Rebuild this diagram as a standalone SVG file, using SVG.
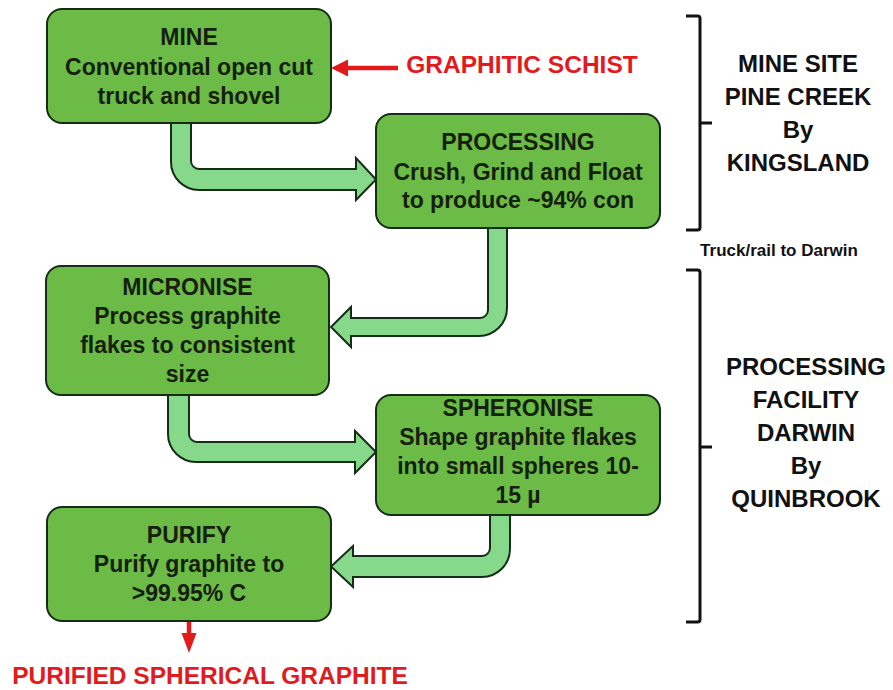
<svg xmlns="http://www.w3.org/2000/svg" width="893" height="690" viewBox="0 0 893 690">
<style>
.box{fill:#6cbb46;stroke:#142e16;stroke-width:2}
.flow{fill:#86d98b;stroke:#142e16;stroke-width:2;stroke-linejoin:miter}
.bt{font-family:"Liberation Sans",Arial,sans-serif;font-weight:bold;font-size:23px;fill:#15200f;text-anchor:middle}
.st{font-family:"Liberation Sans",Arial,sans-serif;font-weight:bold;font-size:24px;fill:#111;text-anchor:middle}
.red{font-family:"Liberation Sans",Arial,sans-serif;font-weight:bold;font-size:24.5px;fill:#e3191c;text-anchor:middle}
.brk{fill:none;stroke:#111;stroke-width:3}
</style>
<rect width="893" height="690" fill="#fff"/>
<g id="connectors">
<path class="flow" d="M171,123 V162 A28,28 0 0 0 199,190 H356 V200 L376,179.5 L356,158 V169 H199 A8,8 0 0 1 191,161 V123 Z"/>
<path class="flow" d="M488,228 V310 A8,8 0 0 1 480,318 H351 V307 L331,327 L351,347 V336 H479 A28,28 0 0 0 507,308 V228 Z"/>
<path class="flow" d="M168,395 V434 A28,28 0 0 0 196,462 H355 V473 L376,452 L355,431 V442 H197 A8,8 0 0 1 189,434 V395 Z"/>
<path class="flow" d="M490,515 V548 A8,8 0 0 1 482,556 H353 V546 L331,566.5 L353,587 V577 H482 A28,28 0 0 0 510,549 V515 Z"/>
<line x1="398" y1="68" x2="345" y2="68" stroke="#e3191c" stroke-width="4.5"/>
<polygon points="331,68 348,59.5 348,76.5" fill="#e3191c"/>
<line x1="189" y1="622" x2="189" y2="636" stroke="#e3191c" stroke-width="4.5"/>
<polygon points="181.5,633 196.5,633 189,653" fill="#e3191c"/>
</g>
<g id="mine">
<rect class="box" x="47" y="9" width="284" height="114" rx="15"/>
<text class="bt" x="189" y="45">MINE</text>
<text class="bt" x="189" y="75">Conventional open cut</text>
<text class="bt" x="189" y="104">truck and shovel</text>
</g>
<g id="processing">
<rect class="box" x="376" y="114" width="284" height="114" rx="15"/>
<text class="bt" x="518" y="150">PROCESSING</text>
<text class="bt" x="518" y="180">Crush, Grind and Float</text>
<text class="bt" x="518" y="208">to produce ~94% con</text>
</g>
<g id="micronise">
<rect class="box" x="46" y="266" width="283" height="129" rx="15"/>
<text class="bt" x="187.5" y="295">MICRONISE</text>
<text class="bt" x="187.5" y="324">Process graphite</text>
<text class="bt" x="187.5" y="353">flakes to consistent</text>
<text class="bt" x="187.5" y="382">size</text>
</g>
<g id="spheronise">
<rect class="box" x="376" y="395" width="284" height="120" rx="15"/>
<text class="bt" x="518" y="416">SPHERONISE</text>
<text class="bt" x="518" y="445">Shape graphite flakes</text>
<text class="bt" x="518" y="474">into small spheres 10-</text>
<text class="bt" x="518" y="503">15 µ</text>
</g>
<g id="purify">
<rect class="box" x="47" y="507" width="284" height="114" rx="15"/>
<text class="bt" x="189" y="543">PURIFY</text>
<text class="bt" x="189" y="572">Purify graphite to</text>
<text class="bt" x="189" y="601">&gt;99.95% C</text>
</g>
<g id="graphitic-schist">
<text class="red" x="522" y="73">GRAPHITIC SCHIST</text>
</g>
<g id="purified-spherical-graphite">
<text class="red" x="210" y="684">PURIFIED SPHERICAL GRAPHITE</text>
</g>
<g id="mine-site">
<path class="brk" d="M686,16 H697.5 Q700,16 700,18.5 V227.5 Q700,230 697.5,230 H686 M700,123 H712"/>
<text class="st" x="798" y="72">MINE SITE</text>
<text class="st" x="798" y="105">PINE CREEK</text>
<text class="st" x="798" y="138">By</text>
<text class="st" x="798" y="171">KINGSLAND</text>
</g>
<g id="transport">
<text x="779" y="256" font-family="Liberation Sans, Arial, sans-serif" font-weight="bold" font-size="17" fill="#111" text-anchor="middle">Truck/rail to Darwin</text>
</g>
<g id="processing-facility">
<path class="brk" d="M686,270 H697.5 Q700,270 700,272.5 V619.5 Q700,622 697.5,622 H686 M700,447 H712"/>
<text class="st" x="806" y="375">PROCESSING</text>
<text class="st" x="806" y="408">FACILITY</text>
<text class="st" x="806" y="441">DARWIN</text>
<text class="st" x="806" y="474">By</text>
<text class="st" x="806" y="507">QUINBROOK</text>
</g>
</svg>
